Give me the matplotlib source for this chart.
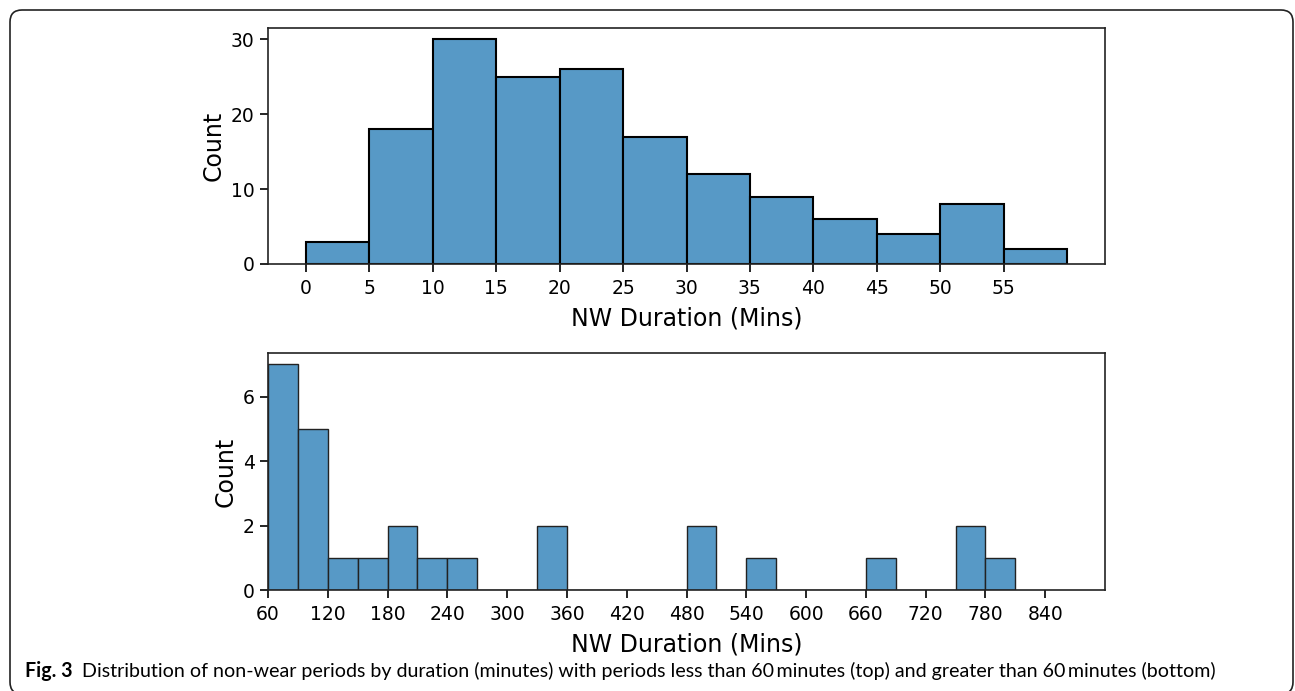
import matplotlib.pyplot as plt
from matplotlib.patches import FancyBboxPatch
from matplotlib.transforms import IdentityTransform

# Histogram counts
short_edges = [0, 5, 10, 15, 20, 25, 30, 35, 40, 45, 50, 55]
short_counts = [3, 18, 30, 25, 26, 17, 12, 9, 6, 4, 8, 2]
short_ticks = [0, 5, 10, 15, 20, 25, 30, 35, 40, 45, 50, 55]

long_edges = list(range(60, 810, 30))
long_counts = [7, 5, 1, 1, 2, 1, 1, 0, 0, 2, 0, 0, 0, 0, 2, 0, 1, 0, 0, 0, 1, 0, 0, 2, 1]
long_ticks = list(range(60, 900, 60))

caption_bold = "Fig. 3"
caption_text = ("Distribution of non-wear periods by duration (minutes) with periods less than "
                "60\u2009minutes (top) and greater than 60\u2009minutes (bottom)")

bar_color = (0.341, 0.6, 0.776)
cap_font = ["Lato", "DejaVu Sans"]

fig = plt.figure(figsize=(12.95, 6.91), dpi=100)
W, H = 1295, 691

# Rounded frame around the figure, in pixels
frame = FancyBboxPatch((10, -3), 1283, 684,
                       boxstyle="round,pad=0,rounding_size=12",
                       transform=IdentityTransform(), fill=False,
                       edgecolor="#222222", linewidth=1.2)
fig.patches.append(frame)

ax1 = fig.add_axes([268 / W, 1 - 264 / H, (1105 - 268) / W, (264 - 28) / H])
ax2 = fig.add_axes([268 / W, 1 - 590 / H, (1105 - 268) / W, (590 - 353) / H])

ax1.bar(short_edges, short_counts, width=5, align="edge", color=bar_color,
        edgecolor="black", linewidth=1.5)
ax1.set_xlim(-3, 63)
ax1.set_ylim(0, 31.5)
ax1.set_xticks(short_ticks)
ax1.set_yticks([0, 10, 20, 30])

ax2.bar(long_edges, long_counts, width=30, align="edge", color=bar_color,
        edgecolor="#222222", linewidth=1.0)
ax2.set_xlim(60, 900)
ax2.set_ylim(0, 7.35)
ax2.set_xticks(long_ticks)
ax2.set_yticks([0, 2, 4, 6])

for ax in (ax1, ax2):
    ax.set_xlabel("NW Duration (Mins)", fontsize=17, labelpad=6)
    ax.set_ylabel("Count", fontsize=17)
    ax.tick_params(labelsize=13.5, length=6, width=1.2)
    ax.tick_params(axis="x", pad=5)
    for s in ax.spines.values():
        s.set_linewidth(1.2)
        s.set_color("#222222")

# Caption: bold figure number then regular text, sized to span like the original
size = 13
t1 = fig.text(25 / W, 1 - 677 / H, caption_bold, fontsize=size, fontweight="bold",
              family=cap_font, va="baseline")
t2 = fig.text(0, 1 - 677 / H, caption_text, fontsize=size, family=cap_font, va="baseline")
for _ in range(3):
    fig.canvas.draw()
    bb = t1.get_window_extent()
    t2.set_x((bb.x1 + 10) / W)
    fig.canvas.draw()
    end = t2.get_window_extent().x1
    size = size * (1212 - 25) / (end - 25)
    t1.set_fontsize(size)
    t2.set_fontsize(size)
fig.canvas.draw()
t2.set_x((t1.get_window_extent().x1 + 10) / W)

fig.savefig("out.png", dpi=100)
